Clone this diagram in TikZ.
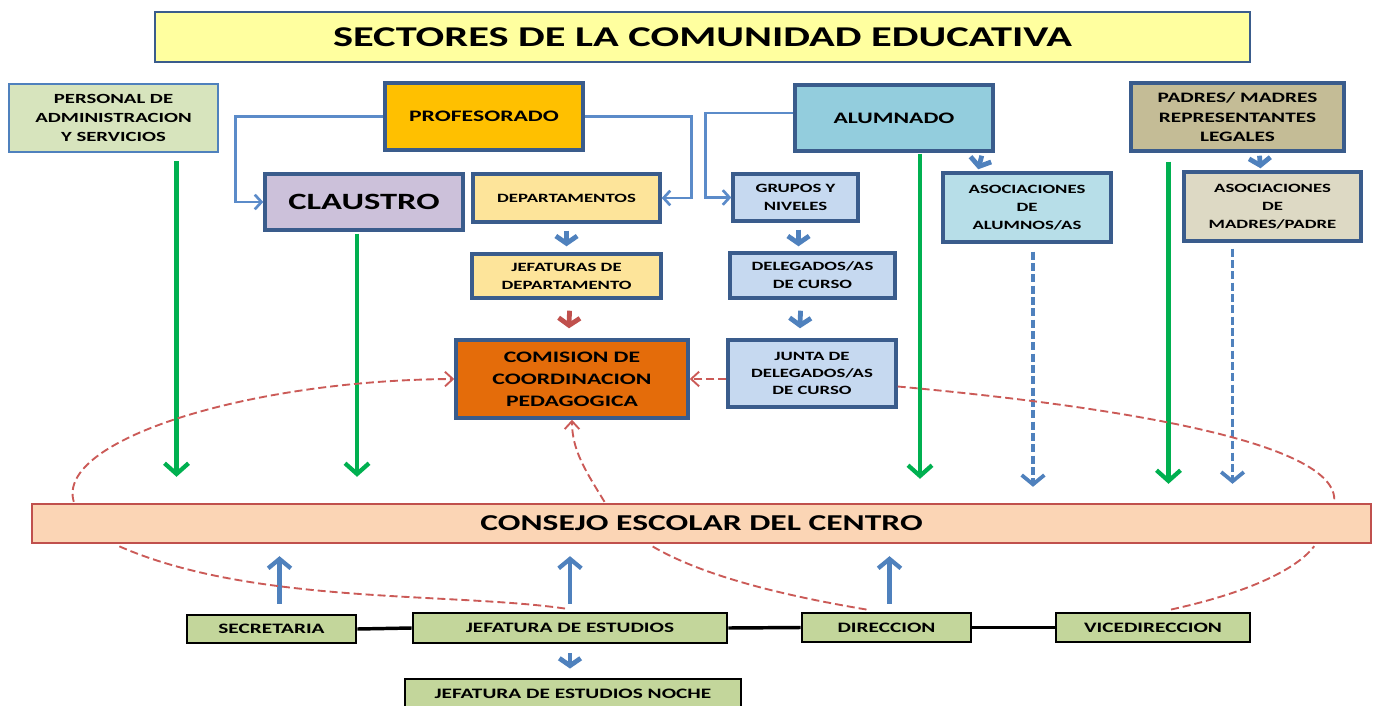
\documentclass[tikz,border=0pt]{standalone}
\usepackage{fontspec}
\setmainfont{Carlito}[FakeStretch=1.48]
\usetikzlibrary{arrows.meta,calc}
\definecolor{bdr}{HTML}{3A5C8C}
\definecolor{titlefill}{HTML}{FFFF9F}
\definecolor{pasfill}{HTML}{D7E4BD}
\definecolor{proffill}{HTML}{FFC000}
\definecolor{clafill}{HTML}{CCC1DA}
\definecolor{depfill}{HTML}{FDE49A}
\definecolor{grpfill}{HTML}{C6D9F0}
\definecolor{alufill}{HTML}{93CDDD}
\definecolor{asafill}{HTML}{B7DEE8}
\definecolor{padfill}{HTML}{C4BC96}
\definecolor{asmfill}{HTML}{DDD9C4}
\definecolor{ccpfill}{HTML}{E46C0A}
\definecolor{cesfill}{HTML}{FBD5B5}
\definecolor{cesbdr}{HTML}{C0504D}
\definecolor{gfill}{HTML}{C3D69B}
\definecolor{agreen}{HTML}{00B050}
\definecolor{ablue}{HTML}{4F81BD}
\definecolor{cblue}{HTML}{5B8BC9}
\definecolor{ared}{HTML}{C0504D}
\definecolor{dred}{HTML}{CB5A57}
\newcommand\bxat[7]{%
  \pgfmathsetmacro\bxw{(#4-#2)*0.75}%
  \pgfmathsetmacro\bxh{(#5-#3)*0.75}%
  \node[#6, minimum width=\bxw pt, minimum height=\bxh pt] (#1) at ({(#2+#4)/2},{(#3+#5)/2}) {#7};}
\tikzset{
  x=0.75pt, y=-0.75pt,
  box/.style={draw=bdr, line width=2.6pt, inner sep=0pt, align=center, text=black},
  smallt/.style={font=\fontsize{9.5}{13.5}\selectfont\bfseries},
  midt/.style={font=\fontsize{12}{16}\selectfont\bfseries},
  gbox/.style={draw=black, line width=2.2pt, fill=gfill, inner sep=0pt, align=center, font=\fontsize{10.8}{12}\selectfont\bfseries},
  conn/.style={draw=cblue, line width=2pt, -{Straight Barb[length=5pt,width=11pt]}},
  barrow/.style={draw=ablue, line width=3.6pt, -{Straight Barb[length=5.5pt,width=16pt]}},
  rarrow/.style={draw=ared, line width=3.6pt, -{Straight Barb[length=5.5pt,width=16pt]}},
  uparrow/.style={draw=ablue, line width=3.2pt, -{Straight Barb[length=7pt,width=17pt]}},
  garrow/.style={draw=agreen, line width=3.2pt, -{Straight Barb[length=8pt,width=18pt]}},
  bdash/.style={draw=ablue, line width=2.8pt, dash pattern=on 6pt off 2.5pt, -{Straight Barb[length=7pt,width=17pt]}},
  rdash/.style={draw=dred, line width=1.4pt, dash pattern=on 6pt off 3pt},
  rdtip/.style={-{Straight Barb[length=6pt,width=11pt]}},
  bline/.style={draw=black, line width=2.6pt},
}
\begin{document}
\begin{tikzpicture}
\useasboundingbox (0,0) rectangle (1373,706);
\clip (0,0) rectangle (1373,706);
\fill[white] (0,0) rectangle (1373,706);
% title
\bxat{title}{155}{12}{1250}{62}{box, fill=titlefill, line width=2.2pt, font=\fontsize{21.5}{25}\selectfont\bfseries}{SECTORES DE LA COMUNIDAD EDUCATIVA}
% top row
\bxat{pas}{9}{84}{218}{152}{box, draw=ablue, line width=2pt, fill=pasfill, font=\fontsize{10.5}{14.3}\selectfont\bfseries}{PERSONAL DE\\ADMINISTRACION\\Y SERVICIOS}
\bxat{prof}{385}{83}{583}{150}{box, fill=proffill, midt}{PROFESORADO}
\bxat{alum}{795}{85}{993}{151}{box, fill=alufill, midt}{ALUMNADO}
\bxat{padres}{1131}{83}{1344}{151}{box, fill=padfill, font=\fontsize{10.8}{14.3}\selectfont\bfseries}{PADRES/ MADRES\\REPRESENTANTES\\LEGALES}
% second row
\bxat{claustro}{265}{174}{463}{230}{box, fill=clafill, font=\fontsize{17.5}{20}\selectfont\bfseries}{CLAUSTRO}
\bxat{dep}{473}{174}{660}{222}{box, fill=depfill, smallt}{DEPARTAMENTOS}
\bxat{grupos}{733}{174}{858}{221}{box, fill=grpfill, smallt}{GRUPOS Y\\NIVELES}
\bxat{asoca}{943}{173}{1111}{242}{box, fill=asafill, smallt}{ASOCIACIONES\\DE\\ALUMNOS/AS}
\bxat{asocm}{1184}{172}{1361}{241}{box, fill=asmfill, smallt}{ASOCIACIONES\\DE\\MADRES/PADRE}
% third row
\bxat{jef}{472}{254}{661}{298}{box, fill=depfill, smallt}{JEFATURAS DE\\DEPARTAMENTO}
\bxat{del}{730}{253}{895}{298}{box, fill=grpfill, smallt}{DELEGADOS/AS\\DE CURSO}
% fourth row
\bxat{ccp}{456}{340}{688}{418}{box, fill=ccpfill, font=\fontsize{12}{16.5}\selectfont\bfseries}{COMISION DE\\COORDINACION\\PEDAGOGICA}
\bxat{junta}{728}{340}{896}{407}{box, fill=grpfill, font=\fontsize{9.5}{13}\selectfont\bfseries}{JUNTA DE\\DELEGADOS/AS\\DE CURSO}
% consejo
\bxat{consejo}{32}{504}{1371}{543}{draw=cesbdr, line width=1.8pt, fill=cesfill, inner sep=0pt, font=\fontsize{17}{20}\selectfont\bfseries}{CONSEJO ESCOLAR DEL CENTRO}
% bottom row
\bxat{sec}{187}{615}{356}{643}{gbox}{SECRETARIA}
\bxat{jest}{413}{613}{727}{643}{gbox}{JEFATURA DE ESTUDIOS}
\bxat{dir}{802}{613}{971}{642}{gbox}{DIRECCION}
\bxat{vice}{1056}{613}{1250}{642}{gbox}{VICEDIRECCION}
\bxat{noche}{405}{679}{741}{708}{gbox}{JEFATURA DE ESTUDIOS NOCHE}
% bracket connectors
\draw[conn] (prof.west) -- ++(-148,0) |- (claustro.west);
\draw[conn] (prof.east) -- ++(107,0) |- (dep.east);
\draw[conn] ($(alum.west)+(0,-5)$) -- ++(-88,0) |- (grupos.west);
% short arrows
\draw[barrow] ($(dep.south)+(0,7)$) -- ($(jef.north)+(0,-6)$);
\draw[rarrow] ($(jef.south)+(3,11)$) -- ($(ccp.north)+(-3,-10)$);
\draw[barrow] ($(grupos.south)+(3,7)$) -- ($(del.north)+(-14,-5)$);
\draw[barrow] ($(del.south)+(-12,11)$) -- ($(junta.north)+(-12,-10)$);
\draw[barrow] ($(alum.south east)+(-13,3)$) -- ($(asoca.north west)+(37,-2)$);
\draw[barrow] ($(padres.south)+(22,3)$) -- ($(asocm.north)+(-12,-2)$);
% green arrows
\draw[garrow] ($(pas.south)+(63,8)$) -- ($(pas.south |- consejo.north)+(63,-26)$);
\draw[garrow] ($(claustro.south)+(-7,2)$) -- ($(claustro.south |- consejo.north)+(-7,-26)$);
\draw[garrow] ($(alum.south)+(26,1)$) -- ($(alum.south |- consejo.north)+(26,-24)$);
\draw[garrow] ($(padres.south)+(-69,9)$) -- ($(padres.south |- consejo.north)+(-69,-19)$);
% dashed blue arrows
\draw[bdash] ($(asoca.south)+(6,8)$) -- ($(asoca.south |- consejo.north)+(6,-16)$);
\draw[bdash] ($(asocm.south)+(-40,6)$) -- ($(asocm.south |- consejo.north)+(-40,-19)$);
% up arrows
\draw[uparrow] ($(sec.north)+(8,-10)$) -- ($(sec.north |- consejo.south)+(8,12)$);
\draw[uparrow] ($(jest.north)+(0,-8)$) -- ($(jest.north |- consejo.south)+(0,12)$);
\draw[uparrow] ($(dir.north)+(3,-8)$) -- ($(dir.north |- consejo.south)+(3,12)$);
\draw[barrow] ($(jest.south)+(0,9)$) -- ($(noche.north)+(-3,-9)$);
% black links
\draw[bline] (sec.east) -- (jest.west);
\draw[bline] (jest.east) -- (dir.west);
\draw[bline] (dir.east) -- (vice.west);
% dashed red curves
\draw[rdash, rdtip] ($(consejo.north west)+(43,-1)$) .. controls (55,440) and (250,380) .. (ccp.west);
\draw[rdash] ($(junta.east)+(0,13)$) .. controls (1100,405) and (1340,440) .. ($(consejo.north east)+(-38,-1)$);
\draw[rdash, rdtip] (junta.west |- ccp.east) -- (ccp.east);
\draw[rdash] ($(jest.north)+(-5,-3)$) .. controls (450,592) and (250,605) .. ($(consejo.south west)+(86,1)$);
\draw[rdash, rdtip] ($(consejo.north)+(-97,-1)$) .. controls (585,470) and (572,450) .. (ccp.south);
\draw[rdash] ($(dir.north)+(-20,-2)$) .. controls (780,595) and (700,575) .. ($(consejo.south)+(-51,1)$);
\draw[rdash] ($(vice.north)+(18,-2)$) .. controls (1260,590) and (1300,565) .. ($(consejo.south east)+(-58,2)$);
\end{tikzpicture}
\end{document}
